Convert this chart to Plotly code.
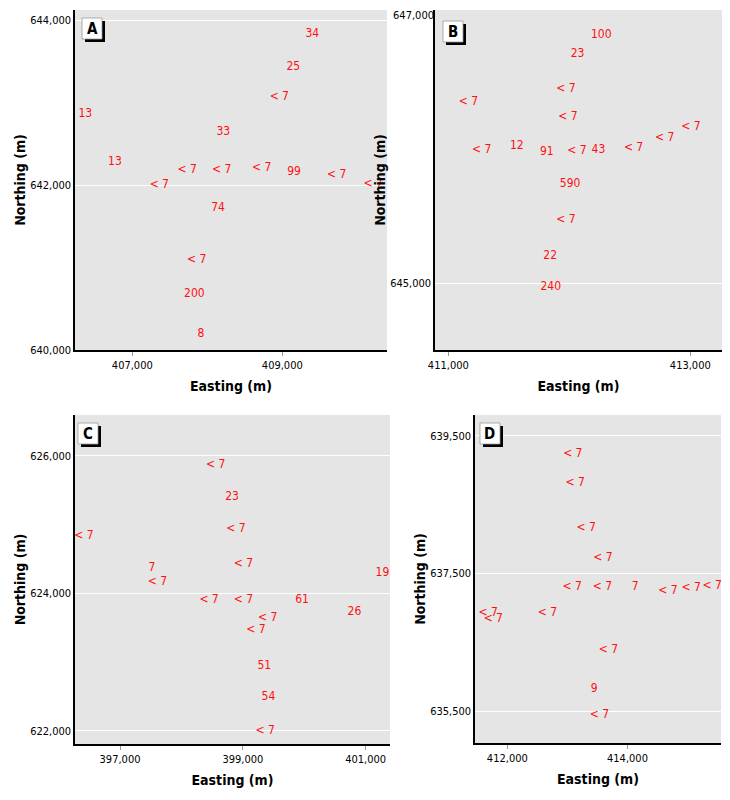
import plotly.graph_objects as go

# Panel A
a_easting = [409400, 409147, 408960, 406373, 408213, 406769, 407733, 408192, 408725,
             409156, 409725, 410213, 407360, 408143, 407859, 407827, 407916]
a_northing = [643840, 643439, 643077, 642864, 642651, 642282, 642189, 642189, 642210,
              642161, 642120, 642017, 642000, 641728, 641089, 640675, 640193]
a_labels = ["34", "25", "< 7", "13", "33", "13", "< 7", "< 7", "< 7",
            "99", "< 7", "< 7", "< 7", "74", "< 7", "200", "8"]

# Panel B
b_easting = [412264, 412068, 411972, 411166, 411988, 413006, 412788, 412531, 411566,
             411276, 411814, 412063, 412241, 412007, 411972, 411842, 411847]
b_northing = [646825, 646683, 646428, 646331, 646221, 646150, 646070, 645997, 646010,
              645980, 645966, 645968, 645980, 645730, 645469, 645202, 644975]
b_labels = ["100", "23", "< 7", "< 7", "< 7", "< 7", "< 7", "< 7", "12",
            "< 7", "91", "< 7", "43", "590", "< 7", "22", "240"]

# Panel C
c_easting = [398559, 398824, 398889, 396414, 399009, 397521, 397608, 401273, 398450,
             399009, 399965, 400817, 399404, 399214, 399350, 399416, 399362]
c_northing = [625865, 625396, 624935, 624838, 624423, 624374, 624170, 624292, 623905,
              623905, 623905, 623730, 623648, 623474, 622947, 622501, 622003]
c_labels = ["< 7", "23", "< 7", "< 7", "< 7", "7", "< 7", "19", "< 7",
            "< 7", "61", "26", "< 7", "< 7", "51", "54", "< 7"]

# Panel D
d_easting = [413090, 413128, 413312, 413590, 413078, 413583, 414128, 414673, 415062,
             415412, 411683, 411767, 412667, 413683, 413445, 413533]
d_northing = [639234, 638808, 638153, 637717, 637295, 637295, 637295, 637241, 637289,
              637314, 636917, 636830, 636917, 636383, 635826, 635447]
d_labels = ["< 7", "< 7", "< 7", "< 7", "< 7", "< 7", "7", "< 7", "< 7",
            "< 7", "< 7", "< 7", "< 7", "< 7", "9", "< 7"]

panel_names = ["A", "B", "C", "D"]
x_ticks = [[407000, 409000], [411000, 413000], [397000, 399000, 401000], [412000, 414000]]
y_ticks = [[640000, 642000, 644000], [645000], [622000, 624000, 626000],
           [635500, 637500, 639500]]
b_top_tick = [647000]

W, H = 730, 800
OFF = 8  # page body margin offset
FONT = "DejaVu Sans Condensed, Liberation Sans Narrow, Arial Narrow, sans-serif"


def px(x):
    return (x - OFF) / W


def py(y):
    return 1 - (y - OFF) / H


# plot area pixel boxes in the screenshot (left, top, right, bottom)
boxes = [(75, 10, 387, 350), (435, 10, 722, 350), (75, 415, 390, 744), (475, 415, 721, 743)]
x_ranges = [[406236, 410396], [410890, 413262], [396267, 401396], [411462, 415557]]
y_ranges = [[640000, 644129], [644513, 647005], [621811, 626591], [635035, 639801]]
label_boxes = [(82, 18), (443, 21), (78, 423), (480, 423)]

fig = go.Figure()
data = [(a_easting, a_northing, a_labels), (b_easting, b_northing, b_labels),
        (c_easting, c_northing, c_labels), (d_easting, d_northing, d_labels)]

shapes = []
annotations = []
for i, (xs, ys, ls) in enumerate(data):
    n = "" if i == 0 else str(i + 1)
    fig.add_trace(go.Scatter(x=xs, y=ys, text=ls, mode="text", cliponaxis=False,
                             textfont=dict(family=FONT, size=12, color="#ff1010"),
                             xaxis="x" + n, yaxis="y" + n, showlegend=False,
                             hoverinfo="skip"))
    l, t, r, b = boxes[i]
    xd = [px(l), px(r)]
    yd = [py(b), py(t)]
    fig.layout["xaxis" + n] = dict(
        domain=xd, anchor="y" + n, range=x_ranges[i], tickvals=x_ticks[i],
        tickformat=",d", showgrid=False, zeroline=False, showline=True,
        linecolor="black", linewidth=1.5, ticks="outside", ticklen=4,
        tickcolor="#999999", tickfont=dict(family=FONT, size=11, color="black"),
        automargin=False,
        title=dict(text="<b>Easting (m)</b>", font=dict(family=FONT, size=14, color="black"),
                   standoff=10))
    fig.layout["yaxis" + n] = dict(
        domain=yd, anchor="x" + n, range=y_ranges[i], tickvals=y_ticks[i],
        tickformat=",d", showgrid=True, gridcolor="white", gridwidth=1, zeroline=False,
        showline=True, linecolor="black", linewidth=1.5, ticks="", automargin=False,
        tickfont=dict(family=FONT, size=11, color="black"),
        title=dict(text="<b>Northing (m)</b>", font=dict(family=FONT, size=14, color="black"),
                   standoff=1))
    bx, by = label_boxes[i]
    bw, bh = 20, 21
    shapes.append(dict(type="rect", xref="paper", yref="paper",
                       x0=px(bx + 3), x1=px(bx + bw + 3),
                       y0=py(by + bh + 3), y1=py(by + 3),
                       fillcolor="black", line=dict(width=0)))
    shapes.append(dict(type="rect", xref="paper", yref="paper",
                       x0=px(bx), x1=px(bx + bw),
                       y0=py(by + bh), y1=py(by),
                       fillcolor="white", line=dict(width=0.8, color="#999999")))
    annotations.append(dict(text="<b>" + panel_names[i] + "</b>", xref="paper", yref="paper",
                            x=px(bx + bw / 2), y=py(by + bh / 2),
                            xanchor="center", yanchor="middle", showarrow=False,
                            font=dict(family=FONT, size=15, color="black")))

# extra overlay axis for panel B's top tick label (nudged down so it stays inside the page)
fig.layout["yaxis5"] = dict(
    domain=[py(350), py(10)], anchor="x2", overlaying="y2", side="left",
    range=y_ranges[1], tickvals=b_top_tick, tickformat=",d", showgrid=False,
    zeroline=False, showline=False, ticks="", automargin=False,
    ticklabelshift=4, ticklabeloverflow="allow",
    tickfont=dict(family=FONT, size=11, color="black"))
fig.add_trace(go.Scatter(x=[], y=[], xaxis="x2", yaxis="y5", showlegend=False,
                         hoverinfo="skip"))

fig.update_layout(width=W, height=H, margin=dict(l=0, r=0, t=0, b=0),
                  paper_bgcolor="white", plot_bgcolor="#e5e5e5",
                  shapes=shapes, annotations=annotations)

fig.write_html("out.html")
